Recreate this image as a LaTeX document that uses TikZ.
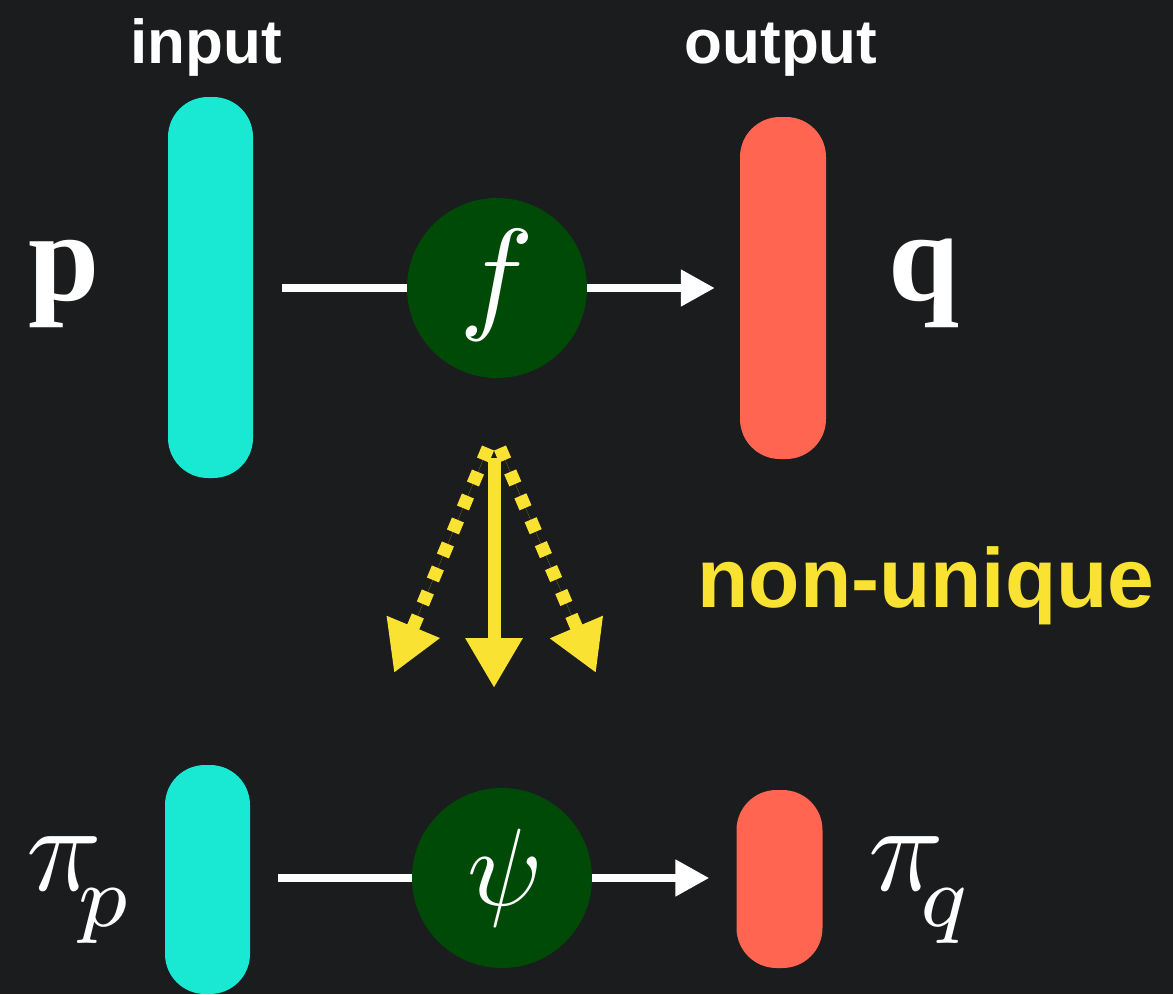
\documentclass[tikz,border=0pt]{standalone}
\usepackage{fontspec}
\setmainfont{Liberation Serif}
\newfontfamily\labsans{Liberation Sans}
\usetikzlibrary{arrows.meta}
\definecolor{bgc}{HTML}{1B1C1E}
\definecolor{cyanpill}{HTML}{19E8D2}
\definecolor{redpill}{HTML}{FF6550}
\definecolor{greenc}{HTML}{004A07}
\definecolor{yellowc}{HTML}{F9E231}
\newcommand{\lowsub}[1]{_{\kern-1.6pt\raisebox{-1.4pt}{$\scriptstyle #1$}}}
\tikzset{
  pillc/.style={fill=cyanpill, draw=none, rounded corners=40pt, inner sep=0, minimum width=85pt},
  pillr/.style={fill=redpill, draw=none, rounded corners=40pt, inner sep=0, minimum width=86pt},
  fnode/.style={circle, fill=greenc, draw=none, minimum size=180pt, inner sep=0},
  whitearrow/.style={draw=white, line width=8pt, -{Triangle[length=34pt,width=35pt]}},
  whiteline/.style={draw=white, line width=8pt},
  yarrow/.style={draw=yellowc, fill=yellowc, line width=13pt, -{Triangle[length=50pt,width=54pt]}},
  ydots/.style={yarrow, dash pattern=on 13pt off 13pt},
  txt/.style={text=white, inner sep=0},
  mathlab/.style={text=white, inner sep=0, font=\normalsize},
  headlab/.style={text=white, inner sep=0, font=\labsans\bfseries\fontsize{62}{62}\selectfont},
}
\begin{document}
\begin{tikzpicture}[x=1pt,y=-1pt]
\fill[bgc] (0,0) rectangle (1173,994);
\useasboundingbox (0,0) rectangle (1173,994);
% top row
\node[pillc, minimum height=381pt] (pin) at (210.5,287.5) {};
\node[pillr, minimum height=342pt] (qout) at (783,288) {};
\node[fnode] (f) at (497,288) {};
\node[mathlab, scale=12.5, anchor=base] (flab) at (497,316) {$f$};
\node[txt, font=\fontsize{128}{128}\selectfont\bfseries, anchor=base] (plab) at (64,300) {p};
\node[txt, font=\fontsize{128}{128}\selectfont\bfseries, anchor=base] (qlab) at (924,300) {q};
\node[headlab, anchor=base] (inlab) at (206,63) {input};
\node[headlab, anchor=base] (outlab) at (781,63) {output};
\draw[whiteline, shorten <=29pt] (pin.east |- f) -- (f.west);
\draw[whitearrow, shorten >=25pt] (f.east) -- (qout.west |- f);
% bottom row
\node[pillc, minimum height=229pt] (pib) at (207.5,879.5) {};
\node[pillr, minimum height=178pt] (qob) at (779.5,879) {};
\node[fnode] (psi) at (502,878) {};
\node[mathlab, scale=11, anchor=base] (psilab) at (505,905) {$\psi$};
\node[mathlab, scale=12.5, anchor=base west] (pip) at (24,890) {$\pi\lowsub{p}$};
\node[mathlab, scale=12.5, anchor=base west] (piq) at (866,890) {$\pi\lowsub{q}$};
\draw[whiteline, shorten <=28pt] (pib.east |- psi) -- (psi.west);
\draw[whitearrow, shorten >=27pt] (psi.east) -- (qob.west |- psi);
% yellow arrows
\coordinate (srcL) at (488,448);
\coordinate (srcC) at (494,458);
\coordinate (srcR) at (500,448);
\coordinate (tipL) at (394,673);
\coordinate (tipC) at (494,688);
\coordinate (tipR) at (596,673);
\draw[ydots] (srcL) -- (tipL);
\draw[ydots] (srcR) -- (tipR);
\draw[yarrow] (srcC) -- (tipC);
\node[text=yellowc, inner sep=0, font=\labsans\bfseries\fontsize{84}{84}\selectfont, anchor=base] (nu) at (926,607) {non-unique};
\end{tikzpicture}
\end{document}
